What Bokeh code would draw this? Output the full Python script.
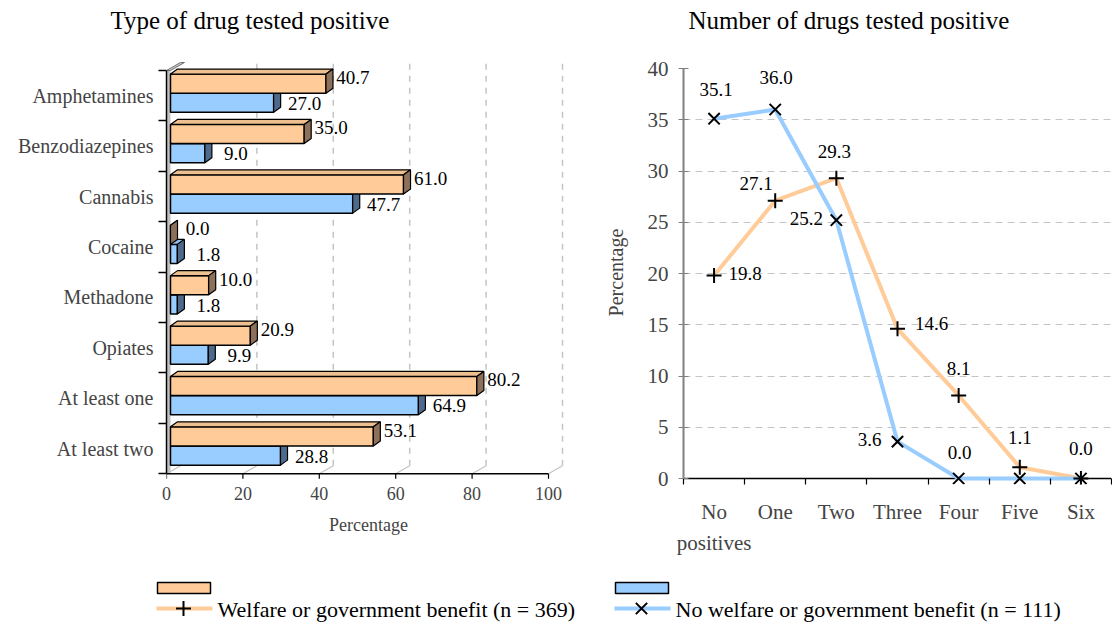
import numpy as np
from bokeh.plotting import figure
from bokeh.layouts import column, row
from bokeh.models import Range1d, FixedTicker, ColumnDataSource, LabelSet
from bokeh.core.properties import value
from bokeh.embed import file_html
from bokeh.resources import INLINE

FONT = "Liberation Serif"

# ---------------- data ----------------
drug_types = ["Amphetamines", "Benzodiazepines", "Cannabis", "Cocaine",
              "Methadone", "Opiates", "At least one", "At least two"]
welfare_by_drug = [40.7, 35.0, 61.0, 0.0, 10.0, 20.9, 80.2, 53.1]
no_welfare_by_drug = [27.0, 9.0, 47.7, 1.8, 1.8, 9.9, 64.9, 28.8]

drug_counts = ["No\npositives", "One", "Two", "Three", "Four", "Five", "Six"]
welfare_by_count = [19.8, 27.1, 29.3, 14.6, 8.1, 1.1, 0.0]
no_welfare_by_count = [35.1, 36.0, 25.2, 3.6, 0.0, 0.0, 0.0]

percent_ticks = [0, 20, 40, 60, 80, 100]
count_ticks = [0, 5, 10, 15, 20, 25, 30, 35, 40]

left_title = "Type of drug tested positive"
right_title = "Number of drugs tested positive"
welfare_name = "Welfare or government benefit (n = 369)"
no_welfare_name = "No welfare or government benefit (n = 111)"

# ---------------- styles ----------------
ORANGE, ORANGE_LID, ORANGE_SIDE = "#FFCC99", "#EEBF8F", "#8C7059"
BLUE, BLUE_LID, BLUE_SIDE = "#99CCFF", "#8CBDEE", "#4D6A8C"
GRID = "#C4C4C4"

# label placement for the line chart, (dx, dy) in screen pixels, dy upwards
welfare_label_offsets = [(31, 2), (-19, 17), (-2, 27), (34, 5), (0, 27), (0, 30), (0, 30)]
no_welfare_label_offsets = [(2, 29), (1, 32), (-30, 2), (-28, 2), (1, 26), None, None]

W = 1112
TITLE_H, CHART_H, LEGEND_H = 45, 525, 53
TOP_BORDER, BOTTOM_BORDER = 15, 86          # shared by both charts
FRAME_H = CHART_H - TOP_BORDER - BOTTOM_BORDER
TICK_PX = 6                                 # room below the base lines for ticks


def strip(height):
    f = figure(width=W, height=height, x_range=Range1d(0, W), y_range=Range1d(height, 0),
               output_backend="svg", toolbar_location=None, min_border=0,
               outline_line_color=None, background_fill_color="white",
               border_fill_color="white")
    f.axis.visible = False
    f.grid.visible = False
    return f


# ================= titles =================
titles = strip(TITLE_H)
titles.text([110, 688], [20, 20], text=[left_title, right_title],
            text_font=value(FONT), text_font_size="25px",
            text_baseline="middle", text_align="left", text_color="black")

# ================= left: type of drug (3D bars) =================
LW = 580
L_LEFT, L_RIGHT = 166, 10
l_frame_w = LW - L_LEFT - L_RIGHT
px_x = 3.82                       # pixels per percentage point
x_end = l_frame_w / px_x
n_cat = len(drug_types)
px_y = 50.4                       # pixels per category band
y_top = -10 / px_y
y_bottom = y_top + FRAME_H / px_y

left = figure(width=LW, height=CHART_H, x_range=Range1d(0, x_end),
              y_range=Range1d(y_bottom, y_top), output_backend="svg",
              toolbar_location=None, min_border_left=L_LEFT,
              min_border_right=L_RIGHT, min_border_top=TOP_BORDER,
              min_border_bottom=BOTTOM_BORDER, outline_line_color=None,
              background_fill_color="white", border_fill_color="white")
left.xgrid.visible = False
left.ygrid.visible = False

# depth of the back wall / floor and of each bar, converted to data units
wall = 4 / px_x
deep_x, deep_y = 14 / px_x, 8 / px_y
bar_dx, bar_dy = 7 / px_x, 5 / px_y

# back gridlines and floor edges
back_x = [t + deep_x for t in percent_ticks[1:]]
left.segment(x0=back_x, y0=[n_cat - deep_y] * len(back_x), x1=back_x,
             y1=[y_top] * len(back_x), line_color=GRID, line_width=1.5,
             line_dash="6 6")
left.segment(x0=percent_ticks, y0=[n_cat] * len(percent_ticks),
             x1=[t + deep_x for t in percent_ticks],
             y1=[n_cat - deep_y] * len(percent_ticks),
             line_color=GRID, line_width=1.2)

# side wall
left.quad(left=0, right=wall, top=0, bottom=n_cat, fill_color="#C0C0C0",
          line_color=None)
left.patch(x=[0, deep_x, deep_x + wall, wall], y=[0, -deep_y, -deep_y, 0],
           fill_color="#C8C8C8", line_color="#707070", line_width=1)

# front edge of the floor with its tick marks (base line of the value axis)
left.segment(x0=[percent_ticks[0]], y0=[n_cat], x1=[percent_ticks[-1]], y1=[n_cat],
             line_color="black", line_width=1.5)
left.segment(x0=percent_ticks, y0=[n_cat] * len(percent_ticks), x1=percent_ticks,
             y1=[n_cat + 5 / px_y] * len(percent_ticks), line_color="black",
             line_width=1.2)

idx = np.arange(n_cat)
orange_top, orange_bot = idx + 0.07, idx + 0.45
blue_top, blue_bot = idx + 0.45, idx + 0.83


def draw_bars(fig, vals, top, bot, front, lid, side):
    x0 = np.full(n_cat, wall)
    x1 = wall + np.asarray(vals, dtype=float)
    fig.quad(left=x0, right=x1, top=top, bottom=bot, fill_color=front,
             line_color="black", line_width=1.5)
    fig.patches(xs=[[a, a + bar_dx, b + bar_dx, b] for a, b in zip(x0, x1)],
                ys=[[t, t - bar_dy, t - bar_dy, t] for t in top],
                fill_color=lid, line_color="black", line_width=1.2)
    fig.patches(xs=[[b, b + bar_dx, b + bar_dx, b] for b in x1],
                ys=[[t, t - bar_dy, u - bar_dy, u] for t, u in zip(top, bot)],
                fill_color=side, line_color="black", line_width=1.2)


draw_bars(left, no_welfare_by_drug, blue_top, blue_bot, BLUE, BLUE_LID, BLUE_SIDE)
draw_bars(left, welfare_by_drug, orange_top, orange_bot, ORANGE, ORANGE_LID, ORANGE_SIDE)

bar_labels = ColumnDataSource(dict(
    x=list(wall + np.array(welfare_by_drug)) + list(wall + np.array(no_welfare_by_drug)),
    y=list(idx + 0.14) + list(idx + 0.655),
    text=[f"{v:.1f}" for v in welfare_by_drug] + [f"{v:.1f}" for v in no_welfare_by_drug],
    dx=[27] * n_cat + [31] * n_cat,
))
left.add_layout(LabelSet(x="x", y="y", text="text", x_offset="dx", source=bar_labels,
                         text_font=value(FONT), text_font_size="19px",
                         text_align="center", text_baseline="middle",
                         text_color="black"))

xa = left.xaxis[0]
xa.ticker = FixedTicker(ticks=percent_ticks)
xa.bounds = (0, 100)
xa.axis_line_color = None
xa.major_tick_line_color = None
xa.major_tick_out = 0
xa.major_tick_in = 0
xa.minor_tick_line_color = None
xa.major_label_standoff = 2
xa.major_label_text_font = FONT
xa.major_label_text_font_size = "18px"
xa.axis_label = "Percentage"
xa.axis_label_text_font = FONT
xa.axis_label_text_font_size = "18px"
xa.axis_label_text_font_style = "normal"
xa.axis_label_standoff = 12

ya = left.yaxis[0]
ya.ticker = FixedTicker(ticks=[float(i + 0.5) for i in range(n_cat)],
                        minor_ticks=list(range(n_cat + 1)))
ya.major_label_overrides = {float(i + 0.5): name for i, name in enumerate(drug_types)}
ya.bounds = (0, n_cat)
ya.axis_line_width = 1.5
ya.major_tick_line_color = None
ya.major_tick_out = 0
ya.major_tick_in = 0
ya.minor_tick_out = 8
ya.minor_tick_in = 0
ya.minor_tick_line_color = "black"
ya.minor_tick_line_width = 1.5
ya.major_label_standoff = 5
ya.major_label_text_font = FONT
ya.major_label_text_font_size = "20px"

# ================= right: number of drugs (lines) =================
RW = W - LW
R_LEFT, R_RIGHT = 103, 1
n_cnt = len(drug_counts)
px_r = 10.25                      # pixels per percentage point
r_start = count_ticks[0] - TICK_PX / px_r
right = figure(width=RW, height=CHART_H, x_range=Range1d(0, n_cnt),
               y_range=Range1d(r_start, r_start + FRAME_H / px_r),
               output_backend="svg", toolbar_location=None,
               min_border_left=R_LEFT, min_border_right=R_RIGHT,
               min_border_top=TOP_BORDER, min_border_bottom=BOTTOM_BORDER,
               outline_line_color=None, background_fill_color="white",
               border_fill_color="white")
right.xgrid.visible = False
right.ygrid.ticker = FixedTicker(ticks=count_ticks[1:-1])
right.ygrid.grid_line_color = GRID
right.ygrid.grid_line_dash = "7 5"
right.ygrid.grid_line_width = 1

# base line at zero
right.segment(x0=[0], y0=[count_ticks[0]], x1=[n_cnt], y1=[count_ticks[0]],
              line_color="black", line_width=1.5)

pos = np.arange(n_cnt) + 0.5
right.line(pos, welfare_by_count, line_color=ORANGE, line_width=4)
right.line(pos, no_welfare_by_count, line_color=BLUE, line_width=4)
right.scatter(pos, welfare_by_count, marker="cross", size=15,
              line_color="black", line_width=2)
right.scatter(pos, no_welfare_by_count, marker="x", size=16,
              line_color="black", line_width=2)


def label_rows(vals, offsets):
    rows = dict(x=[], y=[], text=[], dx=[], dy=[])
    for p_, v, off in zip(pos, vals, offsets):
        if off is None:
            continue
        rows["x"].append(float(p_))
        rows["y"].append(v)
        rows["text"].append(f"{v:.1f}")
        rows["dx"].append(off[0])
        rows["dy"].append(off[1])
    return ColumnDataSource(rows)


for src in (label_rows(welfare_by_count, welfare_label_offsets),
            label_rows(no_welfare_by_count, no_welfare_label_offsets)):
    right.add_layout(LabelSet(x="x", y="y", text="text", x_offset="dx",
                              y_offset="dy", source=src,
                              text_font=value(FONT), text_font_size="19px",
                              text_align="center", text_baseline="middle",
                              text_color="black"))

rx = right.xaxis[0]
rx.ticker = FixedTicker(ticks=[float(p_) for p_ in pos],
                        minor_ticks=list(range(n_cnt + 1)))
rx.major_label_overrides = {float(p_): name for p_, name in zip(pos, drug_counts)}
rx.axis_line_color = None
rx.major_tick_line_color = None
rx.major_tick_out = 0
rx.major_tick_in = 0
rx.minor_tick_out = 0
rx.minor_tick_in = TICK_PX
rx.minor_tick_line_color = "black"
rx.minor_tick_line_width = 1.2
rx.major_label_standoff = 15
rx.major_label_text_font = FONT
rx.major_label_text_font_size = "21px"
rx.major_label_text_line_height = 1.3

ry = right.yaxis[0]
ry.ticker = FixedTicker(ticks=count_ticks)
ry.bounds = (count_ticks[0], count_ticks[-1])
ry.axis_line_color = "#808080"
ry.axis_line_width = 2
ry.major_tick_line_color = "#808080"
ry.major_tick_out = 5
ry.major_tick_in = 5
ry.minor_tick_line_color = None
ry.major_label_standoff = 10
ry.major_label_text_font = FONT
ry.major_label_text_font_size = "21px"
ry.axis_label = "Percentage"
ry.axis_label_text_font = FONT
ry.axis_label_text_font_size = "20px"
ry.axis_label_text_font_style = "normal"
ry.axis_label_standoff = 18

# ================= legend strip =================
legend = strip(LEGEND_H)
for x_left, color, marker, size, name in ((157, ORANGE, "cross", 15, welfare_name),
                                          (615, BLUE, "x", 16, no_welfare_name)):
    legend.quad(left=x_left, right=x_left + 53, top=12, bottom=23,
                fill_color=color, line_color="black", line_width=1.5)
    legend.line([x_left - 1, x_left + 55], [38, 38], line_color=color, line_width=4)
    legend.scatter([x_left + 26], [38], marker=marker, size=size,
                   line_color="black", line_width=2)
    legend.text([x_left + 60], [39], text=[name], text_font=value(FONT),
                text_font_size="22px", text_baseline="middle",
                text_align="left", text_color="black")

page = column(titles, row(left, right), legend)
open("out.html", "w").write(file_html(page, INLINE))
